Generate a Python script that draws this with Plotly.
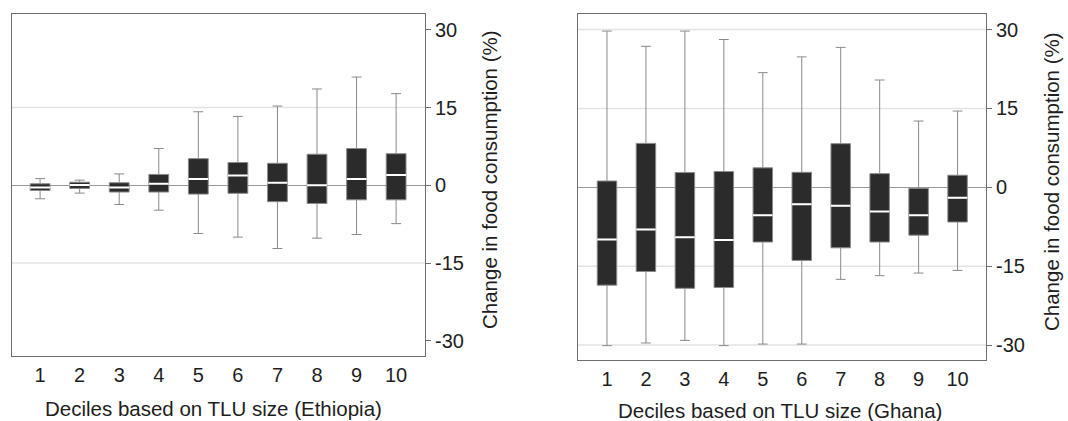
import plotly.graph_objects as go

deciles = [1, 2, 3, 4, 5, 6, 7, 8, 9, 10]

# Ethiopia
eth_low = [-2.6, -1.5, -3.7, -4.8, -9.3, -10.0, -12.2, -10.2, -9.5, -7.4]
eth_q1 = [-1.0, -0.6, -1.3, -1.3, -1.7, -1.55, -3.15, -3.5, -2.8, -2.8]
eth_med = [-0.4, 0.05, -0.4, 0.3, 1.2, 1.9, 0.5, 0.0, 1.2, 2.0]
eth_q3 = [0.3, 0.6, 0.5, 2.1, 5.15, 4.4, 4.25, 6.0, 7.1, 6.1]
eth_high = [1.3, 1.0, 2.2, 7.1, 14.2, 13.3, 15.3, 18.6, 20.9, 17.7]

# Ghana
gha_low = [-30.1, -29.6, -29.1, -30.1, -29.8, -29.8, -17.5, -16.8, -16.3, -15.8]
gha_q1 = [-18.6, -16.0, -19.2, -19.05, -10.4, -13.9, -11.5, -10.4, -9.1, -6.6]
gha_med = [-9.9, -8.0, -9.5, -10.0, -5.3, -3.2, -3.5, -4.6, -5.3, -2.0]
gha_q3 = [1.2, 8.35, 2.8, 3.0, 3.7, 2.85, 8.3, 2.6, -0.2, 2.3]
gha_high = [29.7, 26.8, 29.7, 28.1, 21.8, 24.8, 26.6, 20.4, 12.6, 14.5]

y_ticks = [-30, -15, 0, 15, 30]
grid_left = [-15, 15]
grid_right = [-30, -15, 15, 30]

x_title_left = "Deciles based on TLU size (Ethiopia)"
x_title_right = "Deciles based on TLU size (Ghana)"
y_title = "Change in food consumption (%)"

FONT = "Liberation Sans, Arial, sans-serif"
BOX_FILL = "#2b2b2b"
WHISK = "#8a8a8a"
GRID = "#e3e3e3"
FRAME = "#6e6e6e"
TXT = "#1e1e1e"
TICK_SIZE = 20
TITLE_SIZE = 20.5

fig = go.Figure()

def add_panel(xa, ya, low, q1, med, q3, high):
    fig.add_trace(go.Box(
        x=deciles, q1=q1, median=med, q3=q3, lowerfence=low, upperfence=high,
        width=0.5, whiskerwidth=0.5, fillcolor=BOX_FILL,
        line=dict(color=WHISK, width=1), xaxis=xa, yaxis=ya,
        showlegend=False, hoverinfo="skip", boxpoints=False))
    fig.add_trace(go.Box(
        x=deciles, q1=med, median=med, q3=med, lowerfence=med, upperfence=med,
        width=0.5, whiskerwidth=0, fillcolor="white",
        line=dict(color="white", width=2), xaxis=xa, yaxis=ya,
        showlegend=False, hoverinfo="skip", boxpoints=False))

add_panel("x", "y", eth_low, eth_q1, eth_med, eth_q3, eth_high)
add_panel("x2", "y2", gha_low, gha_q1, gha_med, gha_q3, gha_high)

W, H = 1068, 421

def px_dom(a, b, total):
    return [a / total, b / total]

xdom1 = px_dom(12, 425, W)
xdom2 = px_dom(578, 986, W)
ydom1 = [1 - 356 / H, 1 - 14 / H]
ydom2 = [1 - 360 / H, 1 - 14 / H]

common_x = dict(tickmode="array", tickvals=deciles, ticktext=[str(d) for d in deciles],
                ticks="outside", ticklen=1, tickcolor="rgba(0,0,0,0)",
                showgrid=False, zeroline=False, showline=True, mirror=True,
                linecolor=FRAME, linewidth=1,
                tickfont=dict(family=FONT, size=TICK_SIZE, color=TXT))
common_y = dict(tickmode="array", tickvals=y_ticks, ticktext=[str(t) for t in y_ticks],
                side="right", ticks="outside", ticklen=5, tickcolor=FRAME, tickwidth=1,
                showgrid=False, zeroline=True, zerolinecolor="#9a9a9a", zerolinewidth=1,
                showline=True, mirror=True, linecolor=FRAME, linewidth=1,
                tickfont=dict(family=FONT, size=TICK_SIZE, color=TXT))

shapes = []
for g in grid_left:
    shapes.append(dict(type="line", xref="x domain", yref="y", x0=0, x1=1, y0=g, y1=g,
                       line=dict(color=GRID, width=1.5), layer="below"))
for g in grid_right:
    shapes.append(dict(type="line", xref="x2 domain", yref="y2", x0=0, x1=1, y0=g, y1=g,
                       line=dict(color=GRID, width=1.5), layer="below"))

annotations = [
    dict(text=x_title_left, xref="paper", yref="paper", x=213 / W,
         y=1 - 408 / H, showarrow=False, xanchor="center", yanchor="middle",
         font=dict(family=FONT, size=TITLE_SIZE, color=TXT)),
    dict(text=x_title_right, xref="paper", yref="paper", x=780 / W,
         y=1 - 410 / H, showarrow=False, xanchor="center", yanchor="middle",
         font=dict(family=FONT, size=TITLE_SIZE, color=TXT)),
    dict(text=y_title, xref="paper", yref="paper", x=489 / W, y=1 - 180 / H,
         showarrow=False, textangle=-90, xanchor="center", yanchor="middle",
         font=dict(family=FONT, size=TITLE_SIZE, color=TXT)),
    dict(text=y_title, xref="paper", yref="paper", x=1051 / W, y=1 - 182 / H,
         showarrow=False, textangle=-90, xanchor="center", yanchor="middle",
         font=dict(family=FONT, size=TITLE_SIZE, color=TXT)),
]

fig.update_layout(
    width=W, height=H, margin=dict(l=0, r=0, t=0, b=0),
    paper_bgcolor="white", plot_bgcolor="white",
    boxmode="overlay", showlegend=False,
    xaxis=dict(domain=xdom1, range=[0.29, 10.73], anchor="y", **common_x),
    yaxis=dict(domain=ydom1, range=[-32.95, 33.07], anchor="x", **common_y),
    xaxis2=dict(domain=xdom2, range=[0.256, 10.73], anchor="y2", **common_x),
    yaxis2=dict(domain=ydom2, range=[-32.83, 32.95], anchor="x2", **common_y),
    shapes=shapes, annotations=annotations,
)

fig.write_html("out.html")
